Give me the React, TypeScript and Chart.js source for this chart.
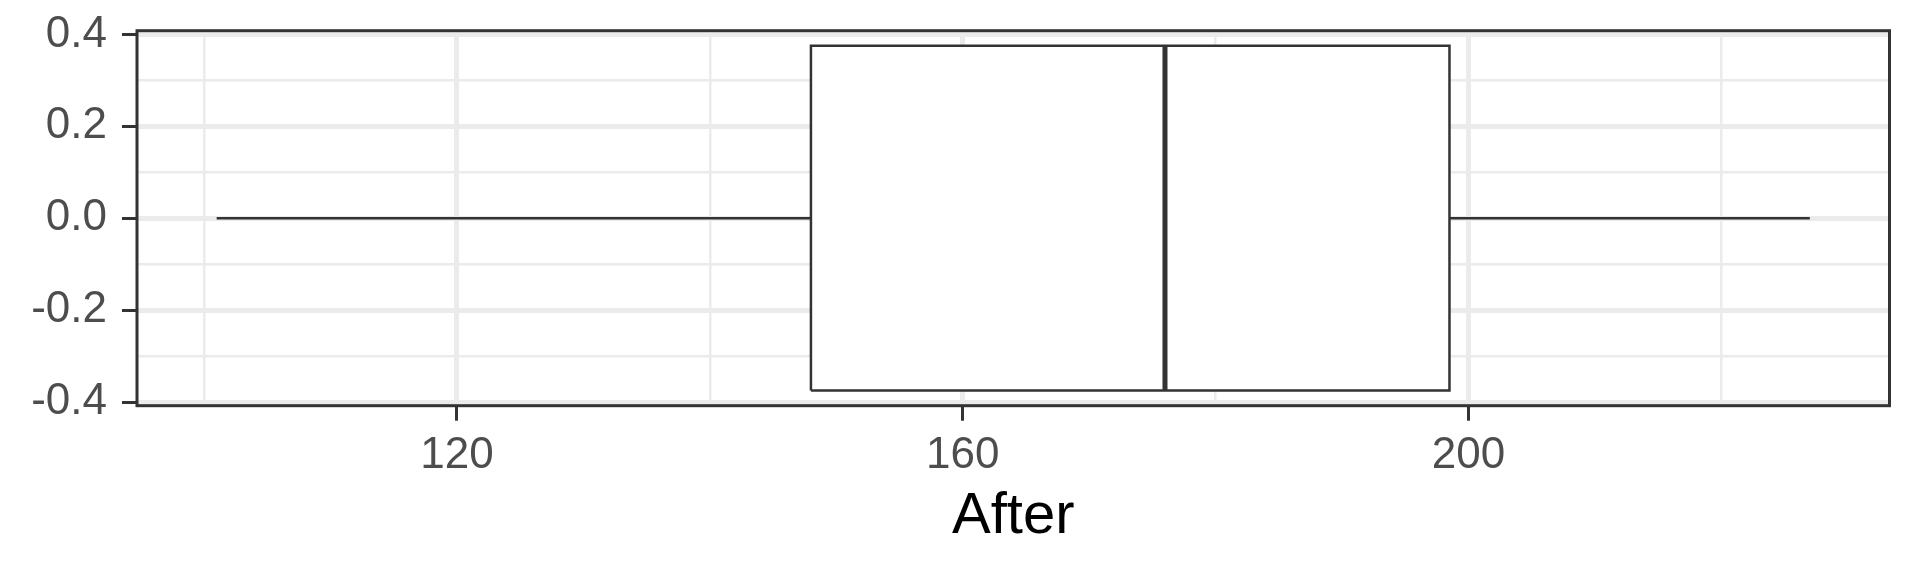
import { useEffect, useRef } from 'react';
import { Chart, registerables } from 'chart.js';

Chart.register(...registerables);

// ---- data ----
const AXIS_TITLE = 'After';
const STAT_NAMES = ['lower whisker', 'Q1', 'median', 'Q3', 'upper whisker'];
const STAT_VALUES = [101, 148, 176, 198.5, 227];
const BOX_HALF_HEIGHT = 0.375;

const X_GRID_VALUES = [100, 120, 140, 160, 180, 200, 220];
const X_MAJOR_TICKS = [120, 160, 200];
const X_TICK_LABELS = ['120', '160', '200'];
const Y_GRID_VALUES = [-0.4, -0.3, -0.2, -0.1, 0, 0.1, 0.2, 0.3, 0.4];
const Y_MAJOR_TICKS = [-0.4, -0.2, 0, 0.2, 0.4];
const Y_TICK_LABELS = ['-0.4', '-0.2', '0.0', '0.2', '0.4'];
const X_RANGE = [94.7, 233.3];
const Y_RANGE = [-0.408, 0.408];

const FONT = "'Liberation Sans', Arial, Helvetica, sans-serif";
const DARK = '#333333';
const GRID = '#EBEBEB';

const majorIndex = (v: number, list: number[]) =>
  list.findIndex((m) => Math.abs(m - v) < 1e-9);

const panelBorder = {
  id: 'panelBorder',
  afterDraw(chart: any) {
    const { ctx, chartArea } = chart;
    const { left, top, right, bottom } = chartArea;
    ctx.save();
    ctx.strokeStyle = DARK;
    ctx.lineWidth = 3;
    ctx.strokeRect(left, top, right - left, bottom - top);
    ctx.restore();
  },
};

export default function App() {
  const ref = useRef<HTMLCanvasElement | null>(null);

  useEffect(() => {
    if (!ref.current) return;
    const [lo, q1, med, q3, hi] = STAT_VALUES;
    const h = BOX_HALF_HEIGHT;
    const lineBase = {
      showLine: true,
      pointRadius: 0,
      pointHoverRadius: 0,
      tension: 0,
      fill: false,
      borderColor: DARK,
      borderCapStyle: 'butt',
      borderJoinStyle: 'miter',
      order: 0,
    };
    const chart = new Chart(ref.current, {
      type: 'scatter',
      data: {
        datasets: [
          {
            ...lineBase,
            label: STAT_NAMES[2],
            data: [
              { x: med, y: -h },
              { x: med, y: h },
            ],
            borderWidth: 5,
          },
          {
            ...lineBase,
            label: 'box',
            data: [
              { x: q1, y: -h },
              { x: q3, y: -h },
              { x: q3, y: h },
              { x: q1, y: h },
              { x: q1, y: -h },
            ],
            borderWidth: 2.5,
          },
          {
            ...lineBase,
            label: STAT_NAMES[0],
            data: [
              { x: lo, y: 0 },
              { x: q1, y: 0 },
            ],
            borderWidth: 2.5,
          },
          {
            ...lineBase,
            label: STAT_NAMES[4],
            data: [
              { x: q3, y: 0 },
              { x: hi, y: 0 },
            ],
            borderWidth: 2.5,
          },
          {
            ...lineBase,
            label: 'box fill',
            order: 1,
            data: [
              { x: q1, y: h },
              { x: q3, y: h },
            ],
            borderColor: 'rgba(0,0,0,0)',
            borderWidth: 0,
            backgroundColor: '#FFFFFF',
            fill: { value: -h },
          },
        ] as any,
      },
      options: {
        animation: false,
        responsive: false,
        layout: { padding: { top: 30.7, right: 30.5, bottom: 0, left: 0 } },
        plugins: {
          legend: { display: false },
          tooltip: { enabled: false },
        },
        scales: {
          x: {
            type: 'linear',
            min: X_RANGE[0],
            max: X_RANGE[1],
            afterBuildTicks: (s: any) => {
              s.ticks = X_GRID_VALUES.map((v) => ({ value: v }));
            },
            afterFit: (s: any) => {
              s.height = 170.3;
              s.paddingLeft = 0;
              s.paddingRight = 0;
            },
            border: { display: false },
            grid: {
              color: GRID,
              lineWidth: (c: any) => (majorIndex(c.tick.value, X_MAJOR_TICKS) >= 0 ? 5 : 2.5),
              tickLength: 15,
              tickWidth: 3,
              tickColor: (c: any) =>
                majorIndex(c.tick.value, X_MAJOR_TICKS) >= 0 ? DARK : 'rgba(0,0,0,0)',
            },
            ticks: {
              autoSkip: false,
              maxRotation: 0,
              includeBounds: false,
              padding: 9,
              color: '#4D4D4D',
              font: { family: FONT, size: 44 },
              callback: (v: any) => {
                const i = majorIndex(Number(v), X_MAJOR_TICKS);
                return i >= 0 ? X_TICK_LABELS[i] : '';
              },
            },
            title: {
              display: true,
              text: AXIS_TITLE,
              color: '#000000',
              font: { family: FONT, size: 58, lineHeight: 1 },
              padding: { top: 0, bottom: 30.5 },
            },
          },
          y: {
            type: 'linear',
            min: Y_RANGE[0],
            max: Y_RANGE[1],
            afterBuildTicks: (s: any) => {
              s.ticks = Y_GRID_VALUES.map((v) => ({ value: v }));
            },
            afterFit: (s: any) => {
              s.width = 137;
              s.paddingTop = 0;
              s.paddingBottom = 0;
            },
            border: { display: false },
            grid: {
              color: GRID,
              lineWidth: (c: any) => (majorIndex(c.tick.value, Y_MAJOR_TICKS) >= 0 ? 5 : 2.5),
              tickLength: 15,
              tickWidth: 3,
              tickColor: (c: any) =>
                majorIndex(c.tick.value, Y_MAJOR_TICKS) >= 0 ? DARK : 'rgba(0,0,0,0)',
            },
            ticks: {
              autoSkip: false,
              includeBounds: false,
              padding: 15,
              color: '#4D4D4D',
              font: { family: FONT, size: 44 },
              callback: (v: any) => {
                const i = majorIndex(Number(v), Y_MAJOR_TICKS);
                return i >= 0 ? Y_TICK_LABELS[i] : '';
              },
            },
          },
        },
      } as any,
      plugins: [panelBorder],
    });
    return () => chart.destroy();
  }, []);

  return (
    <div style={{ position: 'absolute', left: 0, top: 0, width: 1920, height: 576, background: '#FFFFFF' }}>
      <canvas ref={ref} width={1920} height={576} style={{ display: 'block', width: 1920, height: 576 }} />
    </div>
  );
}
